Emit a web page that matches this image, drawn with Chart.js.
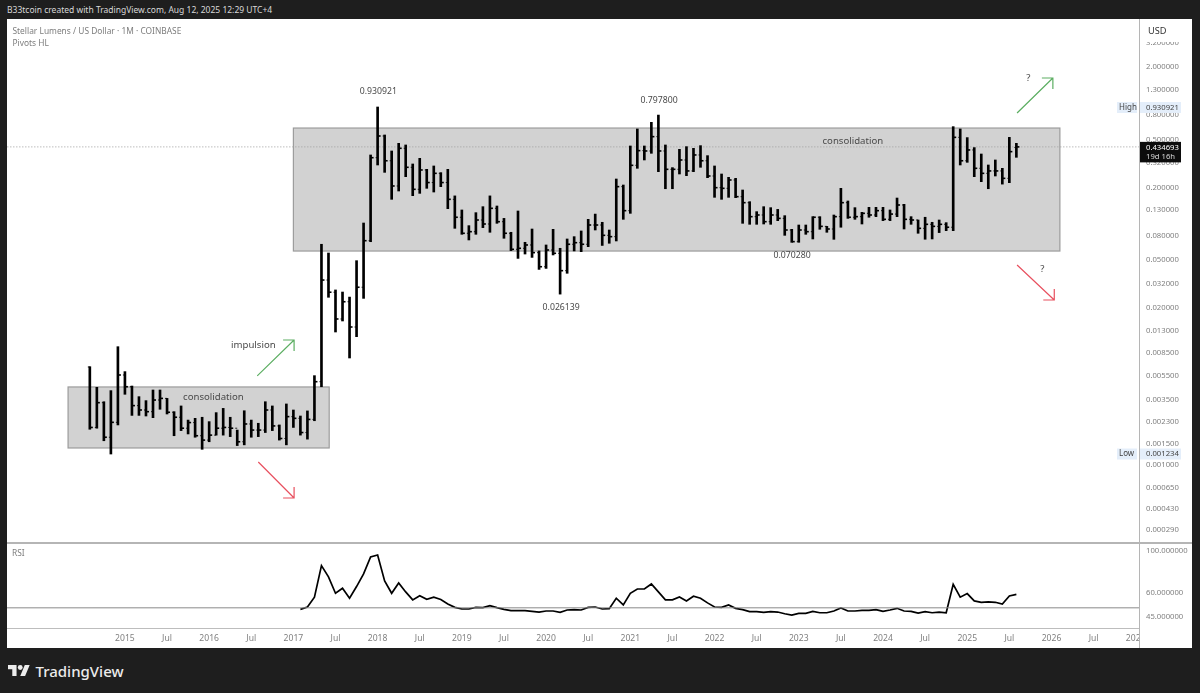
<!DOCTYPE html>
<html>
<head>
<meta charset="utf-8">
<title>XLM / USD</title>
<script src="https://cdn.jsdelivr.net/npm/chart.js@4"></script>
<style>
  html, body { margin: 0; padding: 0; background: #1e1e1e; width: 1200px; height: 693px; overflow: hidden; }
  body { position: relative; font-family: "Noto Sans", sans-serif; }
  .abs { position: absolute; white-space: nowrap; }
  #panel { left: 7px; top: 19px; width: 1185px; height: 629px; background: #fff; }
  #header { left: 7px; top: 4px; font-size: 8.5px; color: #d8d8d8; line-height: 12px; }
  #title { left: 12.5px; top: 24.5px; font-size: 8.4px; color: #7d7d7d; line-height: 12px; }
  #pivots { left: 12.5px; top: 37px; font-size: 8.4px; color: #7d7d7d; line-height: 12px; }
  #rsiName { left: 12px; top: 547px; font-size: 8.4px; color: #7d7d7d; line-height: 12px; }
  #priceChart { left: 7px; top: 19px; }
  #rsiChart { left: 7px; top: 543px; }
  #sep1 { left: 7px; top: 542px; width: 1185px; height: 1.5px; background: #b5b5b5; }
  #sep2 { left: 7px; top: 627.5px; width: 1132px; height: 1.5px; background: #bdbdbd; }
  #axisCover { left: 1140px; top: 629px; width: 52px; height: 19px; background: #fff; }
  #axisLine { left: 1138.5px; top: 19px; width: 1.5px; height: 629px; background: #b5b5b5; }
  #logo { left: 8px; top: 664px; }
  #brand { left: 35.5px; top: 660px; font-size: 15px; color: #ececec; line-height: 22px; font-weight: 500; }
</style>
</head>
<body>
<div id="panel" class="abs"></div>
<div id="header" class="abs">B33tcoin created with TradingView.com, Aug 12, 2025 12:29 UTC+4</div>
<canvas id="priceChart" class="abs" width="1185" height="524"></canvas>
<canvas id="rsiChart" class="abs" width="1185" height="105"></canvas>
<div id="sep1" class="abs"></div>
<div id="sep2" class="abs"></div>
<div id="axisCover" class="abs"></div>
<div id="axisLine" class="abs"></div>
<div id="title" class="abs">Stellar Lumens / US Dollar · 1M · COINBASE</div>
<div id="pivots" class="abs">Pivots HL</div>
<div id="rsiName" class="abs">RSI</div>
<svg id="logo" class="abs" width="22" height="13" viewBox="0 3 36 20"><path fill="#ececec" d="M14 22H7V11H0V4h14v18zM28 22h-8l7.5-18h8L28 22z"/><circle fill="#ececec" cx="20" cy="8" r="4"/></svg>
<div id="brand" class="abs">TradingView</div>

<script>
// months counted from Jan 2015, first bar is Aug 2014
const firstBarMonth = -5;
const firstRsiMonth = 25;

const highs = [
  .00654,.00441,.00335,.00414,.00958,.00595,.00452,.00369,.00342,.00419,
  .00419,.00357,.00277,.00309,.00236,.00244,.00249,.00229,.00272,.00295,
  .00249,.00195,.00282,.00236,.00222,.00335,.00309,.00215,.00321,.00286,
  .00255,.00281,.00551,.0677,.0573,.0283,.0272,.0247,.0495,.1016,
  .3724,.930921,.5455,.402,.4653,.4508,.3136,.3494,.2832,.3019,
  .2658,.2832,.1705,.1303,.0966,.1238,.1388,.1705,.1406,.111,
  .0851,.1278,.0703,.0906,.0596,.0668,.0901,.0627,.0749,.0783,
  .0873,.109,.1205,.103,.0889,.2354,.2099,.4422,.6117,.4422,
  .6947,.7978,.4508,.2925,.4148,.4366,.423,.4451,.3677,.3019,
  .259,.243,.2384,.1908,.1527,.1262,.1388,.1362,.1318,.1169,
  .0901,.0978,.0978,.1147,.1147,.0953,.1184,.197,.1547,.1362,
  .1246,.137,.137,.137,.1303,.1637,.1451,.1147,.1076,.1134,
  .103,.1076,.1023,.6396,.6117,.5189,.4287,.3794,.3076,.3385,
  .2887,.5214,.4653
];
const lows = [
  .00198,.00202,.00159,.001234,.00215,.00386,.00258,.00258,.00255,.00247,
  .0029,.00265,.00175,.00193,.00181,.0017,.00135,.00156,.00177,.00177,
  .00172,.00145,.00147,.0017,.00172,.00186,.00193,.00161,.00147,.00205,
  .00177,.00164,.00233,.00446,.0246,.01268,.01565,.00772,.0116,.0241,
  .0711,.3076,.2673,.1597,.1872,.2461,.1712,.179,.197,.1836,
  .2034,.1336,.0918,.0819,.0735,.0819,.093,.0851,.101,.0759,
  .06,.0517,.0562,.0527,.0419,.0427,.0552,.026139,.0389,.0596,
  .0588,.0647,.0889,.0662,.069,.0721,.109,.1222,.2887,.3385,
  .3845,.2709,.1955,.1955,.259,.2509,.2709,.2943,.2414,.1659,
  .1597,.1659,.1648,.101,.0991,.0991,.0997,.0991,.1062,.0803,
  .07028,.0703,.0819,.0749,.0901,.0851,.0744,.0937,.111,.109,
  .0997,.1134,.1147,.1063,.1063,.1147,.0906,.0991,.0835,.0745,
  .0749,.0846,.0878,.0878,.3076,.3237,.2461,.2237,.1955,.2493,
  .2135,.2194,.3561
];
const closes = [
  .00205,.00329,.0017,.00226,.00558,.00446,.00311,.00286,.00277,.00346,
  .00357,.00274,.00249,.00202,.00225,.00175,.00161,.00177,.00202,.00205,
  .00202,.00156,.00219,.00195,.00195,.00286,.00211,.00166,.00252,.00244,
  .00186,.00239,.00491,.0342,.0271,.01626,.0226,.01395,.0298,.0725,
  .3536,.535,.3335,.206,.423,.2943,.1933,.2797,.22,.2623,
  .22,.1597,.1134,.0835,.0861,.1076,.0997,.1345,.1042,.0835,
  .0615,.0627,.0668,.0577,.0441,.0607,.057,.0409,.0677,.0698,
  .0677,.0978,.0978,.0803,.0783,.2034,.1286,.3057,.4046,.402,
  .5284,.402,.2832,.2832,.3385,.2746,.3725,.3335,.2493,.1995,
  .197,.231,.168,.1498,.1147,.1184,.1042,.1184,.111,.0889,
  .0712,.0889,.0861,.1134,.0953,.0906,.1147,.1498,.1134,.1147,
  .1222,.1184,.1286,.109,.1205,.1433,.109,.1076,.0918,.0991,
  .0953,.0991,.0937,.5214,.3335,.4098,.2887,.2623,.2746,.2746,
  .2384,.3969,.434693
];
const opens = [
  .0065,.00205,.00329,.0017,.00226,.00558,.00446,.00311,.00286,.00277,
  .00346,.00357,.00274,.00249,.00202,.00225,.00175,.00161,.00177,.00202,
  .00205,.00202,.00156,.00219,.00195,.00195,.00286,.00211,.00166,.00252,
  .00244,.00186,.00239,.00491,.0342,.0271,.01626,.0226,.01395,.0298,
  .0725,.3536,.535,.3335,.206,.423,.2943,.1933,.2797,.22,
  .2623,.22,.1597,.1134,.0835,.0861,.1076,.0997,.1345,.1042,
  .0835,.0615,.0627,.0668,.0577,.0441,.0607,.057,.0409,.0677,
  .0698,.0677,.0978,.0978,.0803,.0783,.2034,.1286,.3057,.4046,
  .402,.5284,.402,.2832,.2832,.3385,.2746,.3725,.3335,.2493,
  .1995,.197,.231,.168,.1498,.1147,.1184,.1042,.1184,.111,
  .0889,.0712,.0889,.0861,.1134,.0953,.0906,.1147,.1498,.1134,
  .1147,.1222,.1184,.1286,.109,.1205,.1433,.109,.1076,.0918,
  .0991,.0953,.0991,.0937,.5214,.3335,.4098,.2887,.2623,.2746,
  .2746,.2384,.43
];
const rsiValues = [
  49.1,50.5,56.9,83.6,72.9,59.7,63.5,56.2,64.8,75.6,
  92.9,95.2,69.4,59.7,67.7,60.7,55.1,58.0,55.5,56.9,
  55.3,52.4,50.3,49.3,49.3,50.3,50.1,51.4,50.1,49.1,
  48.3,48.3,48.3,47.9,47.5,48.1,48.1,47.3,48.7,48.9,
  48.7,50.3,50.5,49.3,49.5,56.2,51.8,59.7,62.9,62.9,
  66.9,60.7,55.1,55.1,57.1,54.4,57.6,56.2,53.1,50.5,
  50.3,51.8,49.7,48.9,47.7,47.7,47.3,47.7,47.5,46.5,
  45.8,46.7,46.7,47.9,47.1,47.1,48.1,49.9,48.1,48.1,
  48.5,48.5,48.9,47.9,48.7,49.7,48.1,47.9,46.9,47.7,
  47.1,47.5,47.1,66.6,56.9,59.5,54.4,53.5,53.7,53.5,
  52.4,57.8,58.9
];
const rsiLevel = 50;

const priceTicks = [3.2,2,1.3,.8,.5,.32,.2,.13,.08,.05,.032,.02,.013,.0085,.0055,.0035,.0023,.0015,.001,.00065,.00043,.00029];
const rsiTicks = [100,60,45];
const timeLabels = ["2015","Jul","2016","Jul","2017","Jul","2018","Jul","2019","Jul","2020","Jul","2021","Jul","2022","Jul","2023","Jul","2024","Jul","2025","Jul","2026","Jul","2027"];

const highPrice = 0.930921;
const lowPrice = 0.001234;
const lastPrice = 0.434693;
const countdown = "19d 16h";

// grey ranges: start month, end month, top price, bottom price
const rangeBoxes = [
  [24, 133.2, .623, .0595],
  [-8.1, 29.1, .00444, .001385]
];
// drawn arrows: start month, start price, end month, end price
const upArrows = [[18.85, .00548, 24.1, .01088], [127.1, .83, 132.2, 1.619]];
const downArrows = [[19, .00106, 24.1, .000533], [127.1, .0456, 132.4, .02336]];
// notes on the chart: text, month, price
const notes = [
  ["0.930921", 36.1, 1.239],
  ["0.797800", 76.1, 1.044],
  ["0.026139", 62.15, .02005],
  ["0.070280", 95.05, .0541],
  ["consolidation", 103.7, .4864],
  ["consolidation", 12.6, .00367],
  ["impulsion", 18.3, .00989],
  ["?", 128.7, 1.619],
  ["?", 130.7, .0422]
];

const FONT = '"Noto Sans", sans-serif';
const COLOR_AXIS_TEXT = "#808080";
const COLOR_TAG = "#e4eefa";
const monthMin = -16.8, monthMax = 144.47;

Chart.defaults.animation = false;
Chart.defaults.plugins.legend.display = false;
Chart.defaults.plugins.tooltip.enabled = false;

function xScale(showLabels) {
  return {
    type: "linear", min: monthMin, max: monthMax, offset: false, bounds: "data",
    display: showLabels,
    grid: { display: false, offset: false, drawTicks: false },
    border: { display: false },
    afterBuildTicks: s => { s.ticks = timeLabels.map((_, i) => ({ value: i * 6 })); },
    afterFit: s => {
      s.height = showLabels ? 20 : 0;
      s.paddingLeft = 0;
      s.paddingRight = 0;
    },
    ticks: {
      autoSkip: false, maxRotation: 0, padding: 5, color: COLOR_AXIS_TEXT,
      font: { family: FONT, size: 8.6 },
      callback: v => timeLabels[v / 6]
    }
  };
}

function yScale(lo, hi, tickList) {
  return {
    type: "logarithmic", position: "right", min: lo, max: hi, bounds: "data",
    grid: { display: false, drawTicks: false },
    border: { display: false },
    afterBuildTicks: s => { s.ticks = tickList.map(v => ({ value: v })); },
    afterFit: s => {
      s.width = 53;
      s.paddingTop = 0;
      s.paddingBottom = 0;
    },
    ticks: {
      autoSkip: false, padding: 7, color: COLOR_AXIS_TEXT, align: "center",
      font: { family: FONT, size: 7.7 },
      callback: v => v.toFixed(6)
    }
  };
}

const months = closes.map((_, i) => firstBarMonth + i);

const drawingsPlugin = {
  id: "drawings",
  beforeDatasetsDraw(chart) {
    const { ctx, scales: { x, y } } = chart;
    ctx.save();
    ctx.fillStyle = "#d2d2d2";
    ctx.strokeStyle = "#9c9c9c";
    ctx.lineWidth = 1.2;
    rangeBoxes.forEach(b => {
      const l = x.getPixelForValue(b[0]), r = x.getPixelForValue(b[1]);
      const t = y.getPixelForValue(b[2]), bt = y.getPixelForValue(b[3]);
      ctx.fillRect(l, t, r - l, bt - t);
      ctx.strokeRect(l, t, r - l, bt - t);
    });
    ctx.restore();
  },
  afterDatasetsDraw(chart) {
    const { ctx, scales: { x, y } } = chart;
    ctx.save();
    ctx.lineWidth = 1.2;
    const arrow = (a, color, dir) => {
      const x0 = x.getPixelForValue(a[0]), y0 = y.getPixelForValue(a[1]);
      const x1 = x.getPixelForValue(a[2]), y1 = y.getPixelForValue(a[3]);
      ctx.strokeStyle = color;
      ctx.beginPath();
      ctx.moveTo(x0, y0);
      ctx.lineTo(x1, y1);
      ctx.moveTo(x1 - 11, y1);
      ctx.lineTo(x1, y1);
      ctx.lineTo(x1, y1 + dir * 11);
      ctx.stroke();
    };
    upArrows.forEach(a => arrow(a, "#5cae62", 1));
    downArrows.forEach(a => arrow(a, "#e8505f", -1));

    ctx.fillStyle = "#4a4a4a";
    ctx.textAlign = "center";
    ctx.textBaseline = "middle";
    notes.forEach(n => {
      // digits run wide in this font, so the price notes are set a bit smaller
      ctx.font = (/^\d/.test(n[0]) ? "8.7px " : "9.6px ") + FONT;
      ctx.fillText(n[0], x.getPixelForValue(n[1]), y.getPixelForValue(n[2]));
    });
    ctx.restore();
  },
  afterDraw(chart) {
    const { ctx, scales: { y } } = chart;
    const axisX = y.left;
    ctx.save();
    ctx.textBaseline = "middle";
    ctx.textAlign = "left";

    // USD box hides part of the top tick label
    ctx.fillStyle = "#fff";
    ctx.fillRect(axisX + 1, 2, 50, 21);
    ctx.fillStyle = "#333";
    ctx.font = "9.2px " + FONT;
    ctx.fillText("USD", axisX + 9, 12.5);

    // high and low tags
    const tag = (label, value) => {
      const py = y.getPixelForValue(value) + (label === "Low" ? 0 : 0.5);
      ctx.fillStyle = COLOR_TAG;
      ctx.fillRect(axisX - 22, py - 5.5, 20, 11);
      ctx.fillRect(axisX + 1, py - 5.5, 41, 11);
      ctx.fillStyle = "#444";
      ctx.font = "8px " + FONT;
      ctx.fillText(label, axisX - 20, py);
      ctx.font = "7.7px " + FONT;
      ctx.fillText(value.toFixed(6), axisX + 7, py);
    };
    tag("High", highPrice);
    tag("Low", lowPrice);

    // last price tag
    const py = y.getPixelForValue(lastPrice);
    ctx.fillStyle = "#0c0c0c";
    ctx.fillRect(axisX, py - 5, 42, 20.5);
    ctx.fillStyle = "#fff";
    ctx.font = "7.7px " + FONT;
    ctx.fillText(lastPrice.toFixed(6), axisX + 7, py + 1);
    ctx.fillStyle = "#d8d8d8";
    ctx.fillText(countdown, axisX + 7, py + 10);
    ctx.restore();
  }
};

new Chart(document.getElementById("priceChart"), {
  type: "scatter",
  data: {
    datasets: [
      {
        type: "bar",
        data: months.map((m, i) => ({ x: m, y: [lows[i], highs[i]] })),
        backgroundColor: "#000",
        barThickness: 2,
        grouped: false,
        borderWidth: 0
      },
      {
        data: months.map((m, i) => ({ x: m, y: closes[i] })),
        pointStyle: "dash", pointRadius: 3, borderColor: "#000", pointBorderWidth: 1.6, showLine: false
      },
      {
        data: months.map((m, i) => ({ x: m, y: opens[i] })),
        pointStyle: "dash", pointRotation: 180, pointRadius: 2, borderColor: "#222", pointBorderWidth: 1, showLine: false
      },
      {
        // dotted last price line
        type: "line",
        data: [{ x: monthMin, y: lastPrice }, { x: monthMax, y: lastPrice }],
        borderColor: "#a0a0a0", borderWidth: 0.7, borderDash: [1.5, 1.5], pointRadius: 0
      }
    ]
  },
  options: {
    responsive: false,
    layout: { padding: 0, autoPadding: false },
    scales: { x: xScale(false), y: yScale(0.0002257, 4.995, priceTicks) }
  },
  plugins: [drawingsPlugin]
});

new Chart(document.getElementById("rsiChart"), {
  type: "scatter",
  data: {
    datasets: [
      {
        type: "line",
        data: [{ x: monthMin, y: rsiLevel }, { x: monthMax, y: rsiLevel }],
        borderColor: "#8a8a8a", borderWidth: 1, pointRadius: 0
      },
      {
        type: "line",
        data: rsiValues.map((v, i) => ({ x: firstRsiMonth + i, y: v })),
        borderColor: "#000", borderWidth: 1.7, pointRadius: 0, tension: 0
      }
    ]
  },
  options: {
    responsive: false,
    layout: { padding: 0, autoPadding: false },
    scales: { x: xScale(true), y: yScale(39.1, 110.2, rsiTicks) }
  }
});
</script>
</body>
</html>
